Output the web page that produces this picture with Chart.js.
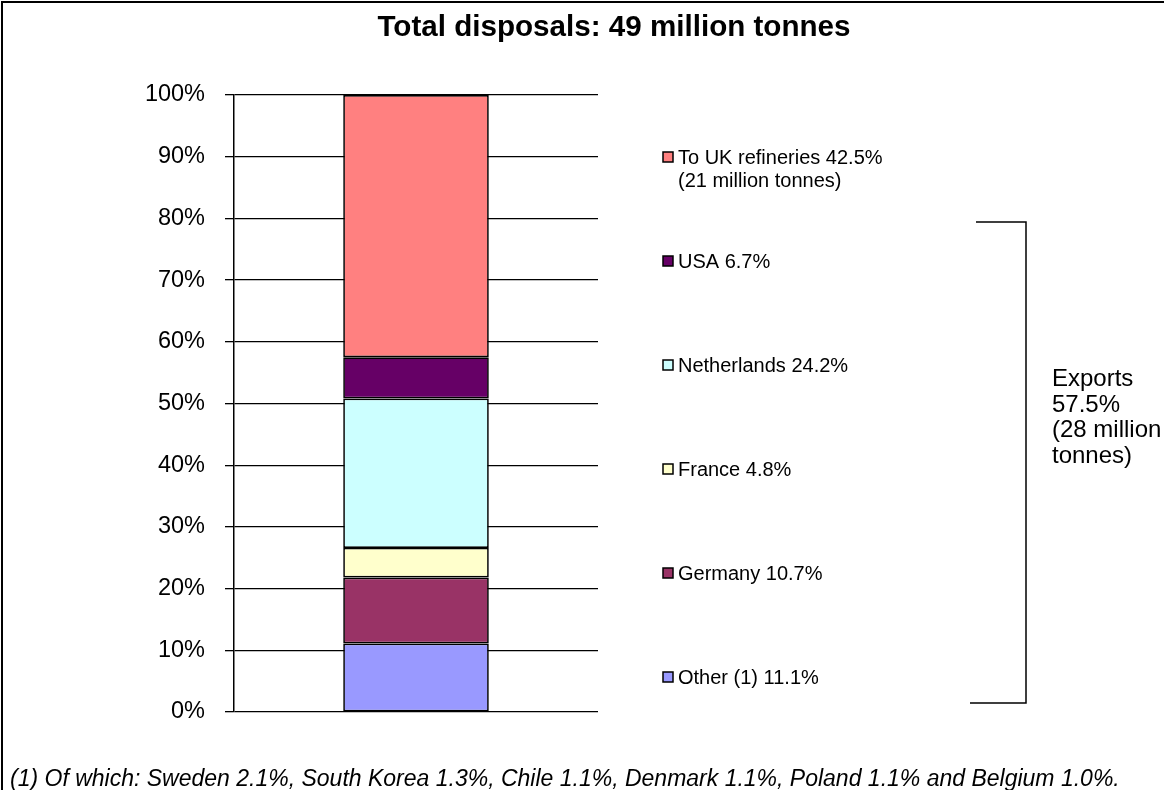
<!DOCTYPE html>
<html>
<head>
<meta charset="utf-8">
<script src="https://cdn.jsdelivr.net/npm/chart.js@4/dist/chart.umd.min.js"></script>
<style>
  html, body { margin: 0; padding: 0; background: #fff; }
  #wrap { position: relative; width: 1164px; height: 790px; overflow: hidden;
          font-family: "Liberation Sans", Arial, sans-serif; }
  #frame { position: absolute; left: 1px; top: 1px; width: 1200px; height: 900px;
           border-left: 2px solid #000; border-top: 2px solid #000; }
  #title { position: absolute; left: 0; width: 1228px; top: 10px; text-align: center;
           font-weight: bold; font-size: 29.6px; line-height: 32px; }
  #exports { position: absolute; left: 1052px; top: 365px; font-size: 24px; line-height: 25.5px; }
  #note { position: absolute; left: 10px; top: 764px; font-size: 23px; line-height: 28px; font-style: italic; white-space: nowrap; }
  canvas { position: absolute; left: 0; top: 0; }
</style>
</head>
<body>
<div id="wrap">
  <div id="frame"></div>
  <canvas id="myChart" width="1164" height="790"></canvas>
  <div id="title">Total disposals: 49 million tonnes</div>
  <div id="exports">Exports<br>57.5%<br>(28 million<br>tonnes)</div>
  <div id="note">(1) Of which: Sweden 2.1%, South Korea 1.3%, Chile 1.1%, Denmark 1.1%, Poland 1.1% and Belgium 1.0%.</div>
</div>
<script>
'use strict';
// bottom to top
var destinations = ['Other (1)', 'Germany', 'France', 'Netherlands', 'USA', 'To UK refineries'];
var shares = [11.1, 10.7, 4.8, 24.2, 6.7, 42.5];
var colours = ['#9999ff', '#993366', '#ffffcc', '#ccffff', '#660066', '#ff8080'];
var yTicks = [0, 10, 20, 30, 40, 50, 60, 70, 80, 90, 100];

var datasets = [];
for (var i = 0; i < destinations.length; i++) {
  datasets.push({
    label: destinations[i],
    data: [shares[i]],
    backgroundColor: colours[i],
    borderColor: '#000',
    borderWidth: 1.7,
    borderSkipped: false,
    barPercentage: 0.4,
    categoryPercentage: 1
  });
}

// legend entries on the right, plus the exports bracket
var sideNotes = {
  id: 'sideNotes',
  afterDraw: function (chart) {
    var ctx = chart.ctx;
    var area = chart.chartArea;
    ctx.save();
    ctx.font = '20px "Liberation Sans", Arial, sans-serif';
    ctx.textBaseline = 'middle';
    var x = 667;
    var step = (area.bottom - 35 - (area.top + 62)) / (destinations.length - 1);
    for (var i = 0; i < destinations.length; i++) {
      var y = area.bottom - 35 - i * step;
      ctx.fillStyle = colours[i];
      ctx.fillRect(x - 4, y - 5, 10, 10);
      ctx.strokeStyle = '#000';
      ctx.lineWidth = 1.5;
      ctx.strokeRect(x - 4, y - 5, 10, 10);
      ctx.fillStyle = '#000';
      ctx.fillText(destinations[i] + ' ' + shares[i].toFixed(1) + '%', x + 11, y + 1);
      if (i === destinations.length - 1) {
        ctx.fillText('(21 million tonnes)', x + 11, y + 24);
      }
    }
    // bracket
    ctx.lineWidth = 1.5;
    ctx.beginPath();
    ctx.moveTo(976, 222);
    ctx.lineTo(1026, 222);
    ctx.lineTo(1026, 703);
    ctx.lineTo(970, 703);
    ctx.stroke();
    ctx.restore();
  }
};

var ctx = document.getElementById('myChart').getContext('2d');
var chart = new Chart(ctx, {
  type: 'bar',
  data: { labels: [''], datasets: datasets },
  options: {
    responsive: false,
    animation: false,
    layout: { padding: { left: 0, right: 566, top: 95, bottom: 78 } },
    plugins: { legend: { display: false }, title: { display: false }, tooltip: { enabled: false } },
    scales: {
      x: { stacked: true, display: false },
      y: {
        stacked: true,
        min: 0,
        max: 100,
        afterBuildTicks: function (scale) {
          scale.ticks = yTicks.map(function (v) { return { value: v }; });
        },
        afterFit: function (scale) { scale.width = 234; },
        ticks: {
          padding: 20,
          color: '#000',
          font: { family: '"Liberation Sans", Arial, sans-serif', size: 23.5 },
          callback: function (v) { return v + '%'; }
        },
        grid: { color: '#000', lineWidth: 1.3, tickLength: 9 },
        border: { display: true, color: '#000', width: 1.5 }
      }
    }
  },
  plugins: [sideNotes]
});
</script>
</body>
</html>
